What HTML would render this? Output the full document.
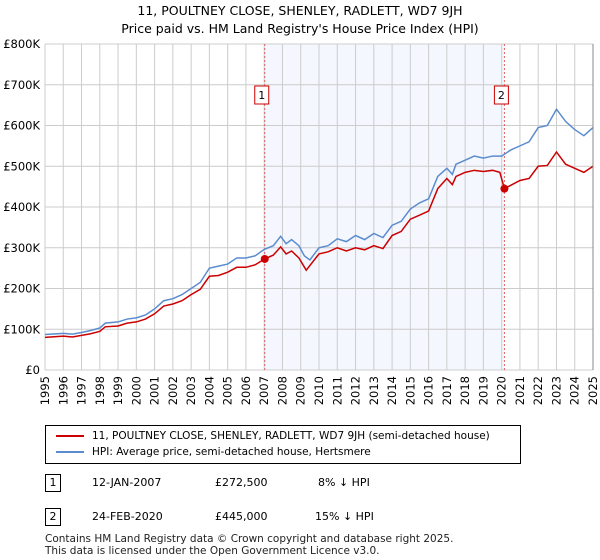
<!DOCTYPE html>
<html><head><meta charset="utf-8"><style>
body{margin:0;width:600px;height:560px;background:#fff;font-family:"DejaVu Sans","Liberation Sans",sans-serif;overflow:hidden;position:relative}
.t{position:absolute;font-size:12px;color:#000;white-space:nowrap}
</style></head><body>
<div class="t" style="left:0;width:600px;text-align:center;top:3px;font-size:12.5px">11, POULTNEY CLOSE, SHENLEY, RADLETT, WD7 9JH</div>
<div class="t" style="left:0;width:600px;text-align:center;top:21px;font-size:12.5px">Price paid vs. HM Land Registry's House Price Index (HPI)</div>
<svg id="chart" width="600" height="420" style="position:absolute;left:0;top:0" font-family="DejaVu Sans, Liberation Sans, sans-serif"></svg>
<div style="position:absolute;left:45px;top:425px;width:474px;height:37px;border:1px solid #000;font-size:10.5px">
 <div style="position:absolute;left:10px;top:4px"><span style="display:inline-block;width:28px;border-top:2px solid #cc0000;vertical-align:middle;margin-right:8px"></span>11, POULTNEY CLOSE, SHENLEY, RADLETT, WD7 9JH (semi-detached house)</div>
 <div style="position:absolute;left:10px;top:20px"><span style="display:inline-block;width:28px;border-top:2px solid #5b8ccf;vertical-align:middle;margin-right:8px"></span>HPI: Average price, semi-detached house, Hertsmere</div>
</div>
<div>
<div class="t" style="left:45px;top:474px;width:14px;height:16px;border:1px solid #000;text-align:center;font-size:11px;line-height:16px">1</div>
<div class="t" style="left:92px;top:476px;font-size:11px">12-JAN-2007</div>
<div class="t" style="left:215px;top:476px;font-size:11px">£272,500</div>
<div class="t" style="left:318px;top:476px;font-size:11px">8% ↓ HPI</div></div>
<div>
<div class="t" style="left:45px;top:508px;width:14px;height:16px;border:1px solid #000;text-align:center;font-size:11px;line-height:16px">2</div>
<div class="t" style="left:92px;top:510px;font-size:11px">24-FEB-2020</div>
<div class="t" style="left:215px;top:510px;font-size:11px">£445,000</div>
<div class="t" style="left:315px;top:510px;font-size:11px">15% ↓ HPI</div></div>
<div class="t" style="left:45px;top:533px;font-size:10.5px;line-height:12px;color:#222">Contains HM Land Registry data © Crown copyright and database right 2025.<br>This data is licensed under the Open Government Licence v3.0.</div>
<script>
const hpiYears=[1995,1996,1996.5,1997,1997.5,1998,1998.3,1999,1999.5,2000,2000.5,2001,2001.5,2002,2002.5,2003,2003.5,2004,2004.5,2005,2005.5,2006,2006.5,2007,2007.5,2007.9,2008.2,2008.5,2008.9,2009.2,2009.5,2010,2010.5,2011,2011.5,2012,2012.5,2013,2013.5,2014,2014.5,2015,2015.5,2016,2016.5,2017,2017.3,2017.5,2018,2018.5,2019,2019.5,2020,2020.5,2021,2021.5,2022,2022.5,2023,2023.5,2024,2024.5,2025];
const hpiValues=[87,90,88,92,97,103,115,118,125,128,135,150,170,175,185,200,215,250,255,260,275,275,280,296,305,328,310,320,305,280,270,300,305,322,315,330,320,335,325,355,365,395,410,420,475,495,480,505,515,525,520,525,525,540,550,560,595,600,640,610,590,575,595];
const priceYears=[1995,1996,1996.5,1997,1997.5,1998,1998.3,1999,1999.5,2000,2000.5,2001,2001.5,2002,2002.5,2003,2003.5,2004,2004.5,2005,2005.5,2006,2006.5,2007.03,2007.5,2007.9,2008.2,2008.5,2008.9,2009.3,2010,2010.5,2011,2011.5,2012,2012.5,2013,2013.5,2014,2014.5,2015,2015.5,2016,2016.5,2017,2017.3,2017.5,2018,2018.5,2019,2019.5,2019.9,2020.15,2021,2021.5,2022,2022.5,2023,2023.5,2024,2024.5,2025];
const priceValues=[80,83,81,85,89,95,106,108,115,118,125,138,157,162,170,185,198,230,232,240,252,252,258,272.5,282,302,285,292,275,245,285,290,300,292,300,295,305,298,330,340,370,380,390,445,470,455,475,485,490,487,490,485,445,465,470,500,502,535,505,495,485,500];
const yTicks=[0,100,200,300,400,500,600,700,800];
const xTicks=[1995,1996,1997,1998,1999,2000,2001,2002,2003,2004,2005,2006,2007,2008,2009,2010,2011,2012,2013,2014,2015,2016,2017,2018,2019,2020,2021,2022,2023,2024,2025];
const saleYears=[2007.03,2020.15];
const saleValues=[272.5,445];
const saleLabels=["1","2"];
const X0=45,X1=593,Y0=370,Y1=44;
const xs=v=>X0+(v-1995)/30*(X1-X0);
const ys=v=>Y0-v/800*(Y0-Y1);
const svg=document.getElementById('chart');
const NS='http://www.w3.org/2000/svg';
function mk(t,a){const e=document.createElementNS(NS,t);for(const k in a)e.setAttribute(k,a[k]);svg.appendChild(e);return e;}
let sh=mk('rect',{x:xs(saleYears[0]),y:Y1,width:xs(saleYears[1])-xs(saleYears[0]),height:Y0-Y1,fill:'#f4f7fe'});


xTicks.forEach(t=>{const l=mk('line',{x1:xs(t),x2:xs(t),y1:Y1,y2:Y0,stroke:'#ccc'});


const tx=mk('text',{x:0,y:0,'font-size':11.5,'text-anchor':'end',transform:`translate(${xs(t)+4},${Y0+6}) rotate(-90)`});tx.textContent=t;

});
yTicks.forEach(t=>{const l=mk('line',{x1:X0,x2:X1,y1:ys(t),y2:ys(t),stroke:'#ccc'});


const tx=mk('text',{x:40,y:ys(t)+4,'font-size':11.5,'text-anchor':'end'});tx.textContent=t===0?'£0':'£'+t+'K';

});
saleYears.forEach((y,i)=>{const l=mk('line',{x1:xs(y),x2:xs(y),y1:Y1,y2:Y0,stroke:'#e06060','stroke-dasharray':'2,2'});


const r=mk('rect',{x:xs(y)-10,y:86,width:14,height:18,fill:'#fff',stroke:'#cc0000'});


const tx=mk('text',{x:xs(y)-3,y:99,'font-size':11,'text-anchor':'middle'});tx.textContent=saleLabels[i];

});
const hp=mk('path',{d:hpiYears.map((y,i)=>(i?'L':'M')+xs(y)+','+ys(hpiValues[i])).join(''),fill:'none',stroke:'#5b8ccf','stroke-width':1.5});


const pp=mk('path',{d:priceYears.map((y,i)=>(i?'L':'M')+xs(y)+','+ys(priceValues[i])).join(''),fill:'none',stroke:'#cc0000','stroke-width':1.5});


saleYears.forEach((y,i)=>{const c=mk('circle',{cx:xs(y),cy:ys(saleValues[i]),r:4,fill:'#cc0000'});

});
const ax=mk('line',{x1:X1,x2:X1,y1:Y1,y2:Y0,stroke:'#888'});


</script>
</body></html>
